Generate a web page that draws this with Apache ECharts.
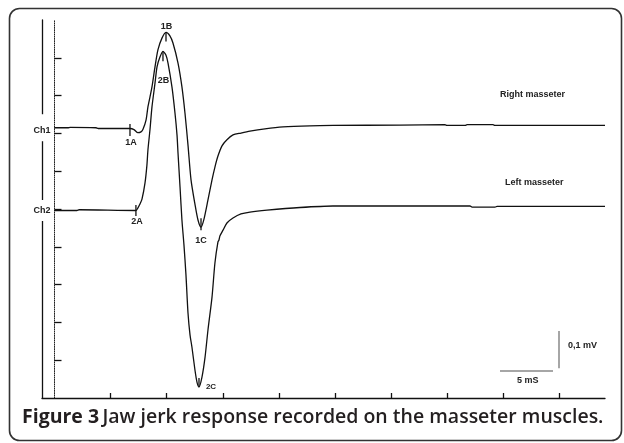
<!DOCTYPE html>
<html>
<head>
<meta charset="utf-8">
<script src="https://cdn.jsdelivr.net/npm/echarts@6/dist/echarts.min.js"></script>
<style>
html,body{margin:0;padding:0;background:#fff;}
#chart{width:624px;height:443px;}
</style>
</head>
<body>
<div id="chart"></div>
<script>
// Time in ms, amplitude in mV (axis units, channel baseline included)
const ch1Time  = [0, 1.2, 1.4, 3.7, 3.9, 6.73, 7.09, 7.44, 7.71, 7.89, 8.16, 8.33, 8.51, 8.69, 8.96, 9.22, 9.58, 9.94, 10.29, 10.56, 11.01, 11.36, 11.63, 11.90, 12.17, 12.53, 12.79, 13.06, 13.33, 13.68, 14.04, 14.30, 14.57, 14.93, 15.37, 15.91, 16.62, 17.42, 18.76, 20.37, 22.77, 24.82, 30.79, 34.80, 34.98, 36.59, 36.77, 39.08, 39.26, 49.06];
const ch1Value = [0.715, 0.715, 0.716, 0.715, 0.713, 0.713, 0.710, 0.702, 0.704, 0.711, 0.735, 0.770, 0.796, 0.823, 0.876, 0.921, 0.952, 0.967, 0.958, 0.939, 0.886, 0.823, 0.754, 0.669, 0.577, 0.511, 0.471, 0.452, 0.474, 0.524, 0.577, 0.611, 0.640, 0.667, 0.683, 0.696, 0.701, 0.706, 0.712, 0.717, 0.720, 0.721, 0.722, 0.723, 0.721, 0.721, 0.723, 0.723, 0.721, 0.721];

const ch2Time  = [0, 2.0, 2.2, 7.26, 7.44, 7.62, 7.80, 8.07, 8.24, 8.33, 8.51, 8.69, 8.96, 9.14, 9.40, 9.67, 9.94, 10.12, 10.47, 10.74, 10.92, 11.01, 11.19, 11.36, 11.54, 11.72, 11.90, 12.08, 12.25, 12.52, 12.70, 12.88, 13.15, 13.42, 13.68, 14.04, 14.30, 14.57, 14.66, 14.75, 15.02, 15.37, 15.91, 16.62, 17.42, 18.94, 21.88, 24.82, 30.79, 37.03, 37.21, 39.26, 39.44, 49.06];
const ch2Value = [0.496, 0.496, 0.498, 0.496, 0.503, 0.513, 0.526, 0.569, 0.616, 0.656, 0.709, 0.770, 0.833, 0.876, 0.902, 0.917, 0.907, 0.886, 0.823, 0.754, 0.696, 0.648, 0.558, 0.471, 0.405, 0.325, 0.225, 0.167, 0.135, 0.074, 0.042, 0.029, 0.056, 0.108, 0.180, 0.267, 0.357, 0.413, 0.418, 0.429, 0.444, 0.463, 0.476, 0.487, 0.492, 0.497, 0.504, 0.508, 0.508, 0.508, 0.505, 0.505, 0.507, 0.507];

const channelNames = ['Ch1', 'Ch2'];
const traceNames = ['Right masseter', 'Left masseter'];
const onsetTimes = [6.73, 7.26];          // 1A, 2A
const xTicks = [5, 10, 15, 20, 25, 30, 35, 40, 45];
const yTicks = [0.1, 0.2, 0.3, 0.4, 0.5, 0.6, 0.7, 0.8, 0.9];
const captionBold = 'Figure 3';
const captionText = 'Jaw jerk response recorded on the masseter muscles.';

const ch1 = ch1Time.map((t, i) => [t, ch1Value[i]]);
const ch2 = ch2Time.map((t, i) => [t, ch2Value[i]]);
const maxPt = d => d.reduce((a, b) => (b[1] > a[1] ? b : a));
const minPt = d => d.reduce((a, b) => (b[1] < a[1] ? b : a));
const atT = (d, t) => d.find(p => p[0] === t);

const lblFont = {fontFamily: 'Liberation Sans, Arial, sans-serif', fontWeight: 'bold', fontSize: 9, color: '#222'};
function tickMark(name, pt, h, symOff, lblOff, extra) {
  return {
    name: name, coord: pt,
    symbol: 'rect', symbolSize: [1.3, h], symbolOffset: symOff,
    itemStyle: {color: '#111'},
    label: Object.assign({show: true, formatter: name, position: 'inside', offset: lblOff}, lblFont, extra || {})
  };
}

const chart = echarts.init(document.getElementById('chart'));
const lineStyle = {color: '#111', width: 1.3};

chart.setOption({
  animation: false,
  backgroundColor: '#fff',
  grid: {left: 42, top: 20, width: 563, height: 378, containLabel: false},
  xAxis: {
    type: 'value', min: -1.11, max: 49.06,
    axisLine: {show: true, onZero: false, lineStyle: {color: '#111', width: 1.3}},
    axisTick: {show: true, inside: true, length: 5, customValues: xTicks, lineStyle: {color: '#111', width: 1.3}},
    axisLabel: {show: false},
    splitLine: {show: false}
  },
  yAxis: [
    {
      type: 'value', min: 0, max: 1, position: 'left',
      axisLine: {show: true, onZero: false, lineStyle: {color: '#111', width: 1.3}},
      axisTick: {show: false},
      splitLine: {show: false},
      axisLabel: {
        show: true, margin: 0, align: 'center', verticalAlign: 'middle',
        customValues: [ch1Value[0], ch2Value[0]],
        formatter: v => (Math.abs(v - ch1Value[0]) < 0.01 ? '{a|' + channelNames[0] + '}' : '{b|' + channelNames[1] + '}'),
        rich: {
          a: Object.assign({backgroundColor: '#fff', padding: [12, 2, 6, 2]}, lblFont),
          b: Object.assign({backgroundColor: '#fff', padding: [6, 2, 6, 2]}, lblFont)
        }
      }
    },
    {
      type: 'value', min: 0, max: 1, position: 'left', offset: -12.5,
      axisLine: {show: true, onZero: false, lineStyle: {color: '#222', width: 1, type: [1, 1.2]}},
      axisTick: {show: true, inside: true, length: 7, customValues: yTicks, lineStyle: {color: '#111', width: 1.3}},
      axisLabel: {show: false},
      splitLine: {show: false}
    }
  ],
  series: [
    {
      name: traceNames[0], type: 'line', data: ch1, showSymbol: false, smooth: 0.25,
      lineStyle: lineStyle, z: 3,
      markPoint: {
        silent: true,
        data: [
          tickMark('1A', atT(ch1, onsetTimes[0]), 12, [0, 1.5], [1, 13]),
          tickMark('1B', maxPt(ch1), 9, [0, 4.5], [0.5, -10]),
          tickMark('1C', minPt(ch1), 12, [0, -3], [0, 16])
        ]
      },
      markLine: {
        silent: true, symbol: 'none', label: {show: false},
        lineStyle: {color: '#888', width: 1.5, type: 'solid'},
        data: [
          [{coord: [39.7, 0.0714]}, {coord: [44.43, 0.0714]}],
          [{coord: [44.96, 0.177]}, {coord: [44.96, 0.079]}]
        ]
      }
    },
    {
      name: traceNames[1], type: 'line', data: ch2, showSymbol: false, smooth: 0.25,
      lineStyle: lineStyle, z: 3,
      markPoint: {
        silent: true,
        data: [
          tickMark('2A', atT(ch2, onsetTimes[1]), 11, [0, 0], [1, 11.5]),
          tickMark('2B', maxPt(ch2), 10, [0, 5], [0.5, 24]),
          tickMark('2C', minPt(ch2), 9, [0, -4.5], [12, 4.5], {fontSize: 8})
        ]
      }
    }
  ],
  graphic: [
    {type: 'rect', left: 7, top: 6, shape: {width: 612, height: 432, r: 10}, style: {fill: 'none', stroke: '#333', lineWidth: 1.6}, silent: true, z: 10},
    {type: 'text', left: 500, top: 90, style: {text: traceNames[0], font: 'bold 9px "Liberation Sans", Arial, sans-serif', fill: '#222'}},
    {type: 'text', left: 505, top: 178, style: {text: traceNames[1], font: 'bold 9px "Liberation Sans", Arial, sans-serif', fill: '#222'}},
    {type: 'text', left: 568, top: 341, style: {text: '0,1 mV', font: 'bold 9px "Liberation Sans", Arial, sans-serif', fill: '#222'}},
    {type: 'text', left: 517, top: 376, style: {text: '5 mS', font: 'bold 9px "Liberation Sans", Arial, sans-serif', fill: '#222'}},
    {type: 'text', left: 22, top: 407, style: {
      text: '{b|' + captionBold + '} {n|' + captionText + '}',
      rich: {
        b: {fontFamily: 'Open Sans', fontWeight: 700, fontSize: 19.5, fill: '#231f20'},
        n: {fontFamily: 'Open Sans', fontWeight: 600, fontSize: 19.5, fill: '#231f20'}
      }
    }}
  ]
});
</script>
</body>
</html>
